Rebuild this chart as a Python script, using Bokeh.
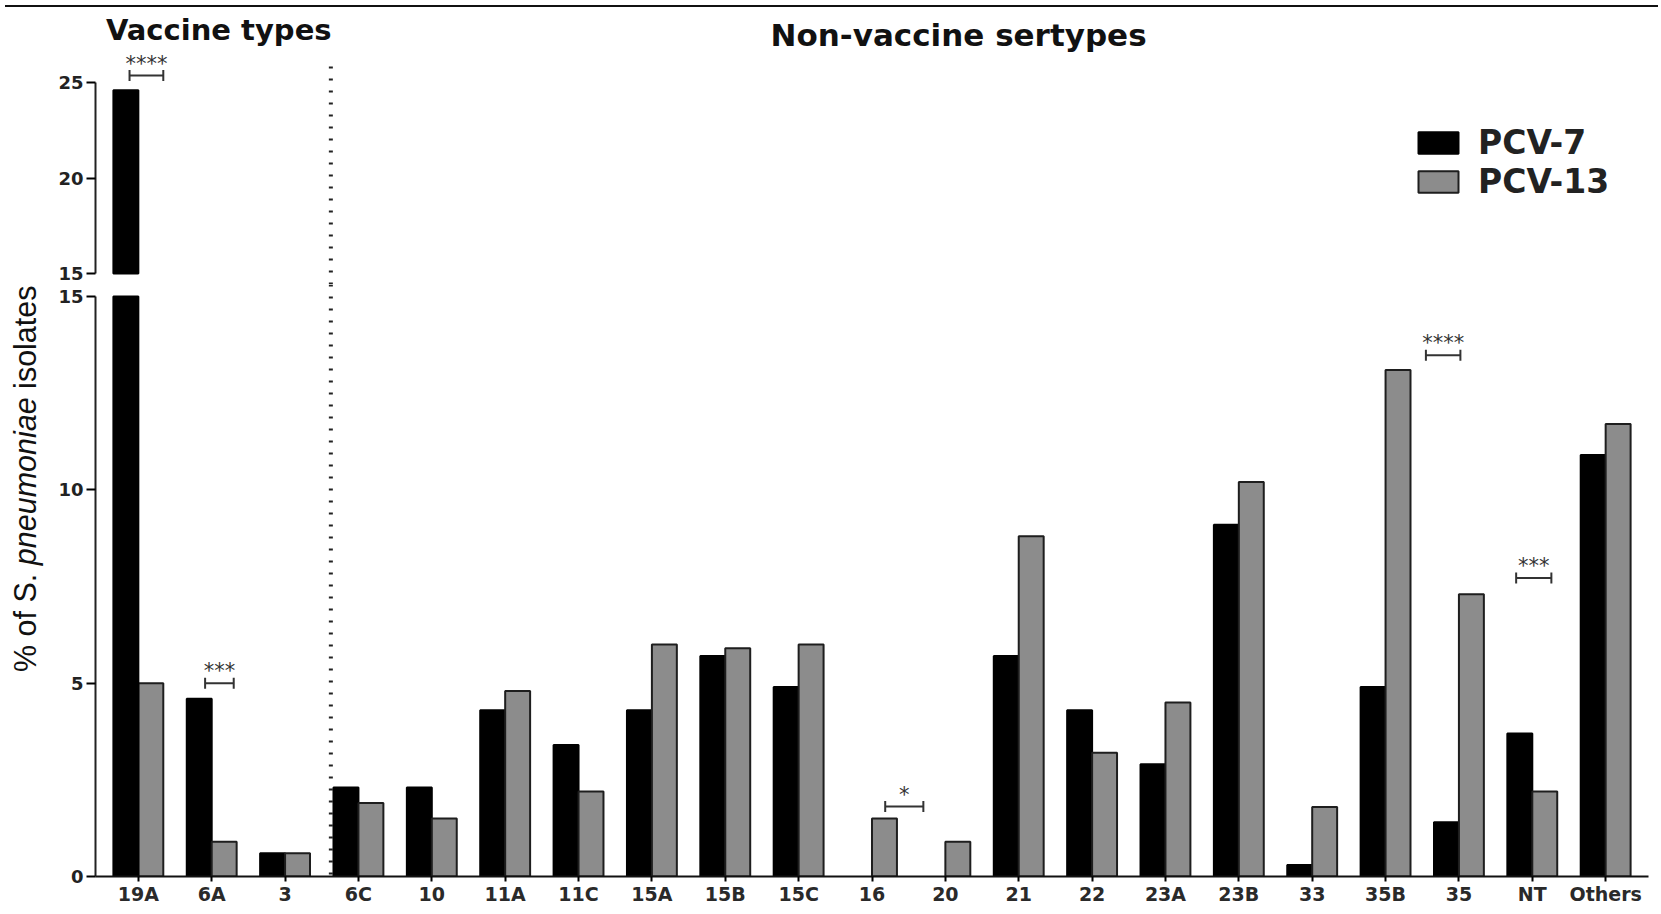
import numpy as np
from bokeh.plotting import figure
from bokeh.models import (FactorRange, Legend, LegendItem, Label, Span,
                          FixedTicker, Div, ColumnDataSource, CDSView, BooleanFilter)
from bokeh.transform import dodge
from bokeh.layouts import column, row
from bokeh.embed import file_html
from bokeh.resources import INLINE

# ---------------- data ----------------
serotypes = ["19A", "6A", "3", "6C", "10", "11A", "11C", "15A", "15B", "15C", "16",
             "20", "21", "22", "23A", "23B", "33", "35B", "35", "NT", "Others"]
pcv7 = [24.6, 4.6, 0.6, 2.3, 2.3, 4.3, 3.4, 4.3, 5.7, 4.9, 0.0,
        0.0, 5.7, 4.3, 2.9, 9.1, 0.3, 4.9, 1.4, 3.7, 10.9]
pcv13 = [5.0, 0.9, 0.6, 1.9, 1.5, 4.8, 2.2, 6.0, 5.9, 6.0, 1.5,
         0.9, 8.8, 3.2, 4.5, 10.2, 1.8, 13.1, 7.3, 2.2, 11.7]
series_names = ["PCV-7", "PCV-13"]
lower_ticks = [0, 5, 10, 15]
upper_ticks = [15, 20, 25]
axis_break = 15
upper_max = 25
sig_groups = ["19A", "6A", "16", "35B", "NT"]
sig_labels = ["****", "***", "*", "****", "***"]
sig_levels = [25.36, 5.0, 1.81, 13.48, 7.72]

# ---------------- layout / style ----------------
LAB_W = 48
TOTAL_H = 896
W = 1605
LEFT, RIGHT = 47, 5
UP_H = 272
UP_GAP_PX = 11            # pixels below the "15" tick inside upper frame
PX_UP = 19.1
LOW_H = TOTAL_H - UP_H
LOW_BOTTOM = 32
LOW_FRAME = LOW_H - LOW_BOTTOM
LOW_TOP_PX = 12           # pixels above the "15" tick inside lower frame
PX_LOW = (LOW_FRAME - LOW_TOP_PX) / axis_break
BAR_W = 0.34
FONT = "DejaVu Sans"
BLACK = "#000000"
GREY = "#8c8c8c"
sig_dx = [(-0.12, 0.34), (-0.09, 0.30), (0.18, 0.70), (0.55, 1.02), (-0.22, 0.26)]
sep_x = 3.124   # dotted separator (synthetic x)

src = ColumnDataSource(dict(cat=serotypes, pcv7=pcv7, pcv13=pcv13))
xr = FactorRange(factors=serotypes, range_padding=0.084, range_padding_units="absolute")

def base_fig(height, y_range):
    p = figure(width=W, height=height, x_range=xr, y_range=y_range,
               output_backend="svg", toolbar_location=None,
               min_border_left=LEFT, min_border_right=RIGHT,
               min_border_top=0, min_border_bottom=0)
    p.outline_line_color = None
    p.xgrid.visible = False
    p.ygrid.visible = False
    p.yaxis.axis_line_width = 2
    p.yaxis.axis_line_color = "#222222"
    p.yaxis.major_tick_line_width = 2
    p.yaxis.major_tick_out = 9
    p.yaxis.major_tick_in = 0
    p.yaxis.minor_tick_line_color = None
    p.yaxis.major_label_text_font = FONT
    p.yaxis.major_label_text_font_style = "bold"
    p.yaxis.major_label_text_font_size = "18px"
    p.yaxis.major_label_text_color = "#222222"
    p.yaxis.major_label_standoff = 3
    return p

STYLE = [dict(fill_color=BLACK, line_color=BLACK, line_width=2),
         dict(fill_color=GREY, line_color="#1e1e1e", line_width=2)]
OFFS = [-BAR_W / 2, BAR_W / 2]
COLS = ["pcv7", "pcv13"]
VALS = [pcv7, pcv13]

def bars(p, lo, hi, bottom, top=None):
    """bars for values in (lo, hi]; top=None -> value, else a fixed break level"""
    for off, col, vals, st in zip(OFFS, COLS, VALS, STYLE):
        mask = [lo < v <= hi for v in vals]
        p.vbar(x=dodge("cat", off, range=xr), top=col if top is None else top,
               bottom=bottom, width=BAR_W, source=src,
               view=CDSView(filter=BooleanFilter(mask)), **st)

def brackets(p, idxs):
    for k in idxs:
        gi = serotypes.index(sig_groups[k]) + 0.5
        x0, x1 = gi + sig_dx[k][0], gi + sig_dx[k][1]
        y = sig_levels[k]
        p.segment(x0=x0, y0=y, x1=x1, y1=y, line_color="#333333", line_width=2)
        p.scatter(x=[x0, x1], y=[y, y], marker="dash", angle=np.pi / 2, size=11,
                  line_color="#333333", line_width=2)
        p.add_layout(Label(x=(x0 + x1) / 2, y=y, text=sig_labels[k],
                           text_align="center", text_baseline="bottom",
                           text_font=FONT, text_font_size="21px",
                           text_color="#333333"))

# ---------------- upper panel (15-25) ----------------
up_lo = axis_break - UP_GAP_PX / PX_UP
up = base_fig(UP_H, (up_lo, up_lo + UP_H / PX_UP))
up.xaxis.visible = False
up.yaxis.ticker = FixedTicker(ticks=upper_ticks)
up.yaxis.bounds = (axis_break, upper_max)
bars(up, axis_break, np.inf, axis_break)
# legend-only renderers (hidden in the plot area)
lg = [up.vbar(x=dodge("cat", off, range=xr), top=col, bottom=0, width=BAR_W,
              source=src, visible=False, **st)
      for off, col, st in zip(OFFS, COLS, STYLE)]
up.segment(x0=sep_x, y0=up_lo, x1=sep_x, y1=25.9, line_color="#222222",
           line_width=4, line_dash="2 10")
brackets(up, [0])
up.add_layout(Label(x=1.596, y=27.74, text="Vaccine types", text_align="center",
                    text_baseline="middle", text_font=FONT, text_font_style="bold",
                    text_font_size="29px", text_color="#111111"))
up.add_layout(Label(x=11.68, y=27.5, text="Non-vaccine sertypes", text_align="center",
                    text_baseline="middle", text_font=FONT, text_font_style="bold",
                    text_font_size="31px", text_color="#111111"))
legend = Legend(items=[LegendItem(label=series_names[0], renderers=[lg[0]]),
                       LegendItem(label=series_names[1], renderers=[lg[1]])],
                location=(1318, 83), glyph_width=50, glyph_height=27,
                label_text_font=FONT, label_text_font_style="bold",
                label_text_font_size="33px", label_text_color="#222222",
                label_standoff=15, label_height=38, spacing=0, padding=0, margin=0,
                border_line_color=None, background_fill_alpha=0,
                inactive_fill_alpha=0)
up.add_layout(legend)

# ---------------- lower panel (0-15) ----------------
low = base_fig(LOW_H, (0, LOW_FRAME / PX_LOW))
low.min_border_bottom = LOW_BOTTOM
low.yaxis.ticker = FixedTicker(ticks=lower_ticks)
low.yaxis.bounds = (0, axis_break)
low.xaxis.axis_line_width = 2
low.xaxis.axis_line_color = "#111111"
low.xaxis.major_tick_line_width = 2
low.xaxis.major_tick_out = 5
low.xaxis.major_tick_in = 0
low.xaxis.major_label_text_font = FONT
low.xaxis.major_label_text_font_style = "bold"
low.xaxis.major_label_text_font_size = "19px"
low.xaxis.major_label_text_color = "#2a2a2a"
low.xaxis.major_label_standoff = 1
bars(low, 0, axis_break, 0)
bars(low, axis_break, np.inf, 0, top=axis_break)   # broken bars end at the break
low.add_layout(Span(location=sep_x, dimension="height", line_color="#222222",
                    line_width=4, line_dash="2 10"))
brackets(low, [1, 2, 3, 4])

# ---------------- y-axis title panel ----------------
lab = figure(width=LAB_W, height=TOTAL_H, x_range=(0, LAB_W), y_range=(0, TOTAL_H),
             output_backend="svg", toolbar_location=None, min_border=0)
lab.axis.visible = False
lab.grid.visible = False
lab.outline_line_color = None
fs = 30.5
y_start = 236.5
parts = [("% of S.", "normal", y_start),
         ("pneumoniae", "italic", y_start + 106.8),
         ("isolates", "normal", y_start + 283.1)]
for txt, style, yy in parts:
    lab.add_layout(Label(x=24.5, y=yy, text=txt, angle=np.pi / 2,
                         text_align="left", text_baseline="middle",
                         text_font="Liberation Sans", text_font_style=style,
                         text_font_size=f"{fs}px", text_color="#111111"))

top_line = Div(text="", width=LAB_W + W, height=2,
               styles={"border-top": "2px solid #111111", "box-sizing": "border-box"})

layout = column(top_line, row(lab, column(up, low)))
open("out.html", "w").write(file_html(layout, INLINE))
